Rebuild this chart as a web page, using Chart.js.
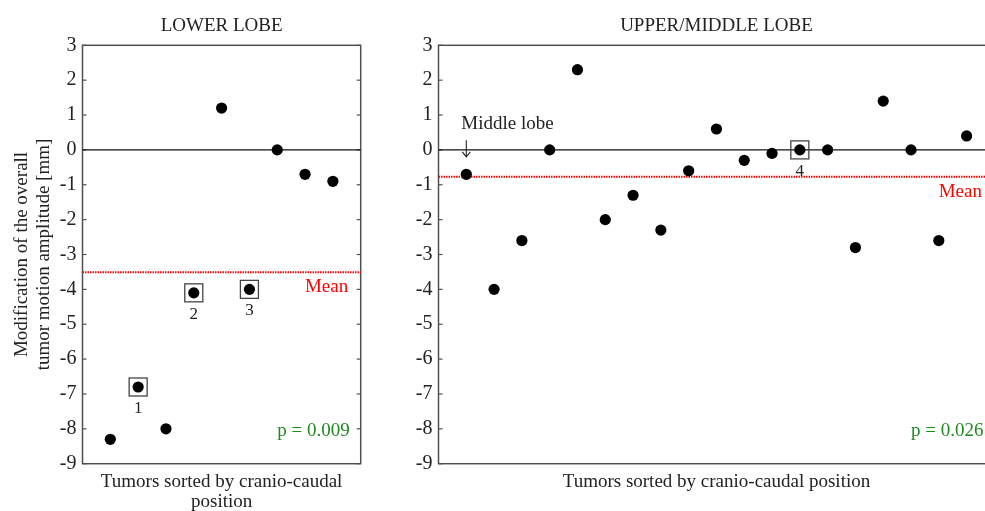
<!DOCTYPE html>
<html>
<head>
<meta charset="utf-8">
<script src="https://cdn.jsdelivr.net/npm/chart.js@4.4.1/dist/chart.umd.min.js"></script>
<style>
  html, body { margin: 0; padding: 0; background: #fff; overflow: hidden; width: 985px; height: 511px; }
  #lower { position: absolute; left: 0; top: 0; }
  #upperWrap { position: absolute; left: 400px; top: 0; width: 585px; height: 511px; overflow: hidden; }
  #upper { display: block; }
</style>
</head>
<body>
<canvas id="lower" width="400" height="511"></canvas>
<div id="upperWrap"><canvas id="upper" width="600" height="511"></canvas></div>
<script>
// y axis range (mm)
const yMin = -9, yMax = 3, yStep = 1;

// lower lobe: tumor rank (cranio-caudal) and change of amplitude
const lowerTumors = [1, 2, 3, 4, 5, 6, 7, 8, 9];
const lowerValues = [-8.3, -6.8, -8.0, -4.1, 1.2, -4.0, 0, -0.7, -0.9];
const lowerMean = -3.51;
const lowerBoxed = [2, 4, 6];
const lowerBoxLabels = ['1', '2', '3'];

// upper / middle lobe
const upperTumors = [1, 2, 3, 4, 5, 6, 7, 8, 9, 10, 11, 12, 13, 14, 15, 16, 17, 18, 19];
const upperValues = [-0.7, -4.0, -2.6, 0, 2.3, -2.0, -1.3, -2.3, -0.6, 0.6, -0.3, -0.1, 0, 0, -2.8, 1.4, 0, -2.6, 0.4];
const upperMean = -0.77;
const upperBoxed = [13];
const upperBoxLabels = ['4'];

const SERIF = '"Liberation Serif", "Times New Roman", serif';

function line(ctx, x1, y1, x2, y2) {
  ctx.beginPath();
  ctx.moveTo(x1, y1);
  ctx.lineTo(x2, y2);
  ctx.stroke();
}

const panelDecor = {
  id: 'panelDecor',
  beforeDatasetsDraw(chart, args, o) {
    const { ctx, chartArea: a, scales: { x, y } } = chart;
    ctx.save();
    // frame + inward ticks
    ctx.strokeStyle = '#505050';
    ctx.lineWidth = 1.5;
    ctx.strokeRect(a.left, a.top, a.right - a.left, a.bottom - a.top);
    ctx.lineWidth = 1.2;
    y.ticks.forEach(t => {
      const py = y.getPixelForValue(t.value);
      line(ctx, a.left, py, a.left + 4, py);
      line(ctx, a.right - 4, py, a.right, py);
    });
    // zero line
    ctx.strokeStyle = '#111';
    ctx.lineWidth = 1.2;
    const y0 = y.getPixelForValue(0);
    line(ctx, a.left, y0, a.right, y0);
    // mean line
    ctx.strokeStyle = '#ff0000';
    ctx.lineWidth = 2;
    ctx.setLineDash([1.5, 1]);
    const ym = y.getPixelForValue(o.mean);
    line(ctx, a.left, ym, a.right, ym);
    ctx.restore();
  },
  afterDatasetsDraw(chart, args, o) {
    const { ctx, chartArea: a, scales: { x, y } } = chart;
    const cx = (a.left + a.right) / 2;
    ctx.save();
    ctx.fillStyle = '#222';
    ctx.textBaseline = 'alphabetic';

    // boxes round selected tumors
    ctx.strokeStyle = '#444';
    ctx.lineWidth = 1.3;
    o.boxed.forEach((rank, i) => {
      const idx = o.tumors.indexOf(rank);
      const px = x.getPixelForValue(rank);
      const py = y.getPixelForValue(o.values[idx]);
      ctx.strokeRect(px - 9, py - 9, 18, 18);
      ctx.font = '17px ' + SERIF;
      ctx.textAlign = 'center';
      ctx.fillText(o.boxLabels[i], px, py + 26);
    });

    // panel title
    ctx.font = '19px ' + SERIF;
    ctx.textAlign = 'center';
    ctx.fillText(o.title, cx, a.top - 14.5);

    // x axis title
    o.xTitle.forEach((t, i) => ctx.fillText(t, cx, a.bottom + 23.5 + i * 19.5));

    // y axis title
    if (o.yTitle) {
      const cy = (a.top + a.bottom) / 2;
      o.yTitle.forEach((t, i) => {
        ctx.save();
        ctx.translate(27 + i * 21.5, cy);
        ctx.rotate(-Math.PI / 2);
        ctx.fillText(t, 0, 0);
        ctx.restore();
      });
    }

    // mean label
    ctx.textAlign = 'right';
    ctx.fillStyle = '#ff0000';
    ctx.fillText('Mean', a.right - 12.5, y.getPixelForValue(o.mean) + 20);

    // p value
    ctx.fillStyle = '#1f8a1f';
    ctx.fillText(o.pText, a.right - 11, a.bottom - 27.5);

    // middle lobe note
    if (o.note) {
      const idx = o.tumors.indexOf(o.note.rank);
      const px = x.getPixelForValue(o.note.rank);
      const py = y.getPixelForValue(o.values[idx]);
      ctx.fillStyle = '#222';
      ctx.textAlign = 'left';
      ctx.fillText(o.note.text, px - 5, py - 45.5);
      ctx.strokeStyle = '#222';
      ctx.lineWidth = 1.1;
      line(ctx, px, py - 34, px, py - 17.5);
      ctx.beginPath();
      ctx.moveTo(px - 4, py - 22.5);
      ctx.lineTo(px, py - 17.5);
      ctx.lineTo(px + 4, py - 22.5);
      ctx.stroke();
    }
    ctx.restore();
  }
};

function makePanel(id, tumors, values, axisWidth, padRight, decor) {
  return new Chart(document.getElementById(id), {
    type: 'scatter',
    data: {
      datasets: [{
        data: tumors.map((t, i) => ({ x: t, y: values[i] })),
        backgroundColor: '#000',
        borderWidth: 0,
        pointRadius: 5.6,
        pointHoverRadius: 5.6
      }]
    },
    options: {
      responsive: false,
      animation: false,
      events: [],
      layout: { padding: { left: 0, right: padRight, top: 45.3, bottom: 47.3 } },
      plugins: {
        legend: { display: false },
        tooltip: { enabled: false },
        panelDecor: Object.assign({ tumors, values }, decor)
      },
      scales: {
        x: { type: 'linear', min: 0, max: tumors.length + 1, display: false },
        y: {
          min: yMin,
          max: yMax,
          afterFit(scale) { scale.width = axisWidth; },
          grid: { display: false, drawTicks: false },
          border: { display: false },
          ticks: {
            stepSize: yStep,
            padding: 6,
            color: '#222',
            font: { family: SERIF, size: 20 }
          }
        }
      }
    },
    plugins: [panelDecor]
  });
}

makePanel('lower', lowerTumors, lowerValues, 82.5, 39.3, {
  title: 'LOWER LOBE',
  xTitle: ['Tumors sorted by cranio-caudal', 'position'],
  yTitle: ['Modification of the overall', 'tumor motion amplitude [mm]'],
  mean: lowerMean,
  boxed: lowerBoxed,
  boxLabels: lowerBoxLabels,
  pText: 'p = 0.009'
});

makePanel('upper', upperTumors, upperValues, 38.5, 5, {
  title: 'UPPER/MIDDLE LOBE',
  xTitle: ['Tumors sorted by cranio-caudal position'],
  mean: upperMean,
  boxed: upperBoxed,
  boxLabels: upperBoxLabels,
  pText: 'p = 0.026',
  note: { rank: 1, text: 'Middle lobe' }
});
</script>
</body>
</html>
